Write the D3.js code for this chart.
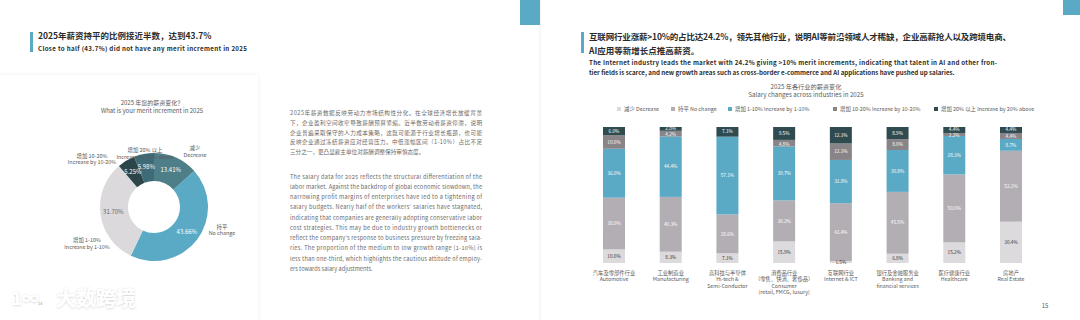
<!DOCTYPE html>
<html>
<head>
<meta charset="utf-8">
<script src="https://cdn.jsdelivr.net/npm/d3@7"></script>
<style>
  body { margin: 0; background: #fff; }
  svg text { font-family: "Noto Sans CJK SC", "Noto Sans", sans-serif; }
  .head-cn { font-size: 8.5px; font-weight: bold; fill: #2b2b2b; }
  .head-en { font-size: 6.2px; font-weight: bold; fill: #2b2b2b; }
  .small { font-size: 5.4px; fill: #5a5a5a; }
  .body { font-size: 5.6px; fill: #6a6a6a; }
</style>
</head>
<body>
<svg id="page" width="1080" height="320"></svg>
<script>
// ---- left: donut ----
const donutCn = ["减少", "持平", "增加 1-10%", "增加 10-20%", "增加 20% 以上"];
const donutEn = ["Decrease", "No change", "Increase by 1-10%", "Increase by 10-20%", "Increase by 20% above"];
const donutValues = [13.41, 43.66, 31.70, 5.25, 5.98];
const donutColors = ["#4e7e87", "#5aaac6", "#dcd9dd", "#2c4549", "#3e6b78"];

// ---- right: stacked bars ----
const industriesCn = ["汽车及零部件行业", "工业制造业", "高科技与半导体", "消费品行业", "互联网行业", "银行及金融服务业", "医疗健康行业", "房地产"];
const industriesSub = [[], [], [], ["（零售、快消、奢侈品）"], [], [], [], []];
const industriesEn = [["Automotive"], ["Manufacturing"], ["Hi-tech &", "Semi-Conductor"], ["Consumer", "(retail, FMCG, luxury)"],
  ["Internet & ICT"], ["Banking and", "financial services"], ["Healthcare"], ["Real Estate"]];
const seriesNames = ["减少 Decrease", "持平 No change", "增加 1-10% Increase by 1-10%", "增加 10-20% Increase by 10-20%", "增加 20% 以上 Increase by 20% above"];
const decrease  = [10.0, 8.3, 7.1, 15.9, 1.5, 6.8, 15.2, 30.4];
const noChange  = [38.0, 40.3, 28.6, 30.2, 42.4, 45.5, 50.0, 52.2];
const inc1to10  = [36.0, 44.4, 57.1, 39.7, 31.8, 30.8, 28.3, 8.7];
const inc10to20 = [10.0, 4.2, 0, 4.8, 12.1, 8.0, 2.2, 4.4];
const inc20plus = [6.0, 2.8, 7.1, 9.5, 12.1, 8.9, 4.4, 4.4];
const barColors = ["#dddadd", "#b3adb4", "#5aa9c5", "#888488", "#2f4b4f"];

const textCn = [
  "2025年薪资数据反映劳动力市场结构性分化。在全球经济增长放缓背景",
  "下，企业盈利空间收窄导致薪酬预算紧缩。近半数劳动者薪资停滞，说明",
  "企业普遍采取保守的人力成本策略，这既可能源于行业增长瓶颈，也可能",
  "反映企业通过冻结薪资应对经营压力。中低涨幅区间（1-10%）占比不足",
  "三分之一，更凸显雇主单位对薪酬调整保持审慎态度。"
];
const textEn = [
  "The salary data for 2025 reflects the structural differentiation of the",
  "labor market. Against the backdrop of global economic slowdown, the",
  "narrowing profit margins of enterprises have led to a tightening of",
  "salary budgets. Nearly half of the workers' salaries have stagnated,",
  "indicating that companies are generally adopting conservative labor",
  "cost strategies. This may be due to industry growth bottlenecks or",
  "reflect the company's response to business pressure by freezing sala-",
  "ries. The proportion of the medium to low growth range (1-10%) is",
  "less than one-third, which highlights the cautious attitude of employ-",
  "ers towards salary adjustments."
];

const svg = d3.select("#page");

// page decoration
const defs = svg.append("defs");
const sh = defs.append("filter").attr("id", "soft").attr("x", "-10%").attr("y", "-10%").attr("width", "120%").attr("height", "120%");
sh.append("feDropShadow").attr("dx", 0).attr("dy", 0).attr("stdDeviation", 2).attr("flood-color", "#000").attr("flood-opacity", 0.07);
const lg = defs.append("filter").attr("id", "logo");
lg.append("feDropShadow").attr("dx", 0).attr("dy", 0.5).attr("stdDeviation", 1).attr("flood-color", "#000").attr("flood-opacity", 0.2);

svg.append("rect").attr("x", -10).attr("y", 75).attr("width", 268).attr("height", 260)
  .attr("fill", "#fff").attr("filter", "url(#soft)");
svg.append("line").attr("x1", 540).attr("x2", 540).attr("y1", 0).attr("y2", 320)
  .attr("stroke", "#f0f0f0").attr("stroke-width", 1);
svg.append("rect").attr("x", 520).attr("y", 0).attr("width", 20).attr("height", 25).attr("fill", "#5aa9c5");
svg.append("rect").attr("x", 1063).attr("y", 0).attr("width", 17).attr("height", 15).attr("fill", "#5aa9c5");

// ---- headlines ----
svg.append("rect").attr("x", 30).attr("y", 32).attr("width", 3).attr("height", 20).attr("fill", "#5aa9c5");
svg.append("text").attr("class", "head-cn").attr("x", 38).attr("y", 38.5).text("2025年薪资持平的比例接近半数，达到43.7%");
svg.append("text").attr("class", "head-en").attr("x", 38).attr("y", 50.5)
  .attr("textLength", 209).attr("lengthAdjust", "spacing")
  .text("Close to half (43.7%) did not have any merit increment in 2025");

svg.append("rect").attr("x", 581).attr("y", 32).attr("width", 3).attr("height", 21).attr("fill", "#5aa9c5");
svg.append("text").attr("class", "head-cn").attr("x", 589).attr("y", 39.5)
  .attr("textLength", 422).attr("lengthAdjust", "spacing")
  .text("互联网行业涨薪>10%的占比达24.2%，领先其他行业，说明AI等前沿领域人才稀缺，企业高薪抢人以及跨境电商、");
svg.append("text").attr("class", "head-cn").attr("x", 589).attr("y", 53.5).text("AI应用等新增长点推高薪资。");
svg.append("text").attr("class", "head-en").attr("x", 589).attr("y", 64.8)
  .attr("textLength", 408).attr("lengthAdjust", "spacing")
  .text("The Internet industry leads the market with 24.2% giving >10% merit increments, indicating that talent in AI and other fron-");
svg.append("text").attr("class", "head-en").attr("x", 589).attr("y", 74.5)
  .text("tier fields is scarce, and new growth areas such as cross-border e-commerce and AI applications have pushed up salaries.");

// ---- donut ----
const cx = 154, cy = 207;
const g = svg.append("g").attr("transform", `translate(${cx},${cy})`);
const pie = d3.pie().sort(null).value(d => d)(donutValues);
const arc = d3.arc().innerRadius(26).outerRadius(54);
const labelArc = d3.arc().innerRadius(41).outerRadius(41);
g.selectAll("path").data(pie).join("path")
  .attr("d", arc).attr("fill", (d, i) => donutColors[i]);
g.selectAll("text.pct").data(pie).join("text").attr("class", "pct")
  .attr("transform", d => `translate(${labelArc.centroid(d)})`)
  .attr("text-anchor", "middle").attr("dy", "0.35em")
  .style("font-size", "6px")
  .attr("fill", (d, i) => i === 2 ? "#666" : "#fff")
  .text(d => d.data.toFixed(2) + "%");

svg.append("text").attr("class", "small").attr("x", 152).attr("y", 105).attr("text-anchor", "middle")
  .style("font-size", "6px").text("2025 年您的薪资变化？");
svg.append("text").attr("class", "small").attr("x", 152).attr("y", 112.5).attr("text-anchor", "middle")
  .style("font-size", "6px").text("What is your merit increment in 2025");

// outside labels, placed beside each slice
const outerPos = [[195, 150], [222, 228.5], [87, 242], [92, 157.5], [145, 152]];
outerPos.forEach((p, i) => {
  const t = svg.append("text").attr("class", "small").attr("text-anchor", "middle")
    .attr("x", p[0]).attr("y", p[1]);
  t.append("tspan").attr("x", p[0]).text(donutCn[i]);
  t.append("tspan").attr("x", p[0]).attr("dy", 6.8).text(donutEn[i]);
});

// ---- middle paragraphs ----
textCn.forEach((s, i) => {
  const t = svg.append("text").attr("class", "body").attr("x", 290).attr("y", 115 + i * 9.8).text(s);
  if (i < textCn.length - 1) t.attr("textLength", 192).attr("lengthAdjust", "spacing");
});
textEn.forEach((s, i) => {
  const t = svg.append("text").attr("class", "body").attr("x", 290).attr("y", 178.5 + i * 10.25).text(s);
  if (i < textEn.length - 1) t.attr("textLength", 192).attr("lengthAdjust", "spacing");
});

// ---- stacked bar chart ----
const rows = industriesCn.map((c, i) => ({
  name: c, s0: decrease[i], s1: noChange[i], s2: inc1to10[i], s3: inc10to20[i], s4: inc20plus[i]
}));
const keys = ["s0", "s1", "s2", "s3", "s4"];
const stack = d3.stack().keys(keys).offset(d3.stackOffsetExpand)(rows);

const x = d3.scalePoint().domain(industriesCn).range([614, 1011]);
const y = d3.scaleLinear().domain([0, 1]).range([263, 127]);
const bw = 22;

const bars = svg.append("g");
stack.forEach((layer, k) => {
  const lay = bars.append("g");
  lay.selectAll("rect").data(layer).join("rect")
    .attr("x", d => x(d.data.name) - bw / 2)
    .attr("y", d => y(d[1]))
    .attr("width", bw)
    .attr("height", d => Math.max(0, y(d[0]) - y(d[1])))
    .attr("fill", barColors[k]);
});
// segment labels; thin top segments get nudged so they don't collide
stack.forEach((layer, k) => {
  bars.append("g").selectAll("text").data(layer.filter(d => d.data[layer.key] > 0)).join("text")
    .attr("x", d => x(d.data.name))
    .attr("y", d => {
      const mid = (y(d[0]) + y(d[1])) / 2;
      const v = d.data[layer.key];
      if (v < 5 && k >= 3) return mid + (k === 4 ? -0.8 : 0.8);
      return mid;
    })
    .attr("dy", "0.35em").attr("text-anchor", "middle")
    .style("font-size", "4.7px")
    .attr("fill", k === 0 ? "#333" : "#fff")
    .text(d => d.data[layer.key].toFixed(1) + "%");
});

// category labels
industriesCn.forEach((c, i) => {
  const lines = [c].concat(industriesSub[i], industriesEn[i]);
  lines.forEach((s, j) => {
    svg.append("text").attr("class", "small").attr("text-anchor", "middle")
      .style("font-size", "5.3px")
      .attr("x", x(c)).attr("y", 275 + j * 6.4).text(s);
  });
});

// chart title + legend
svg.append("text").attr("class", "small").attr("x", 806).attr("y", 89).attr("text-anchor", "middle")
  .style("font-size", "6.2px").text("2025 年各行业的薪资变化");
svg.append("text").attr("class", "small").attr("x", 806).attr("y", 97).attr("text-anchor", "middle")
  .style("font-size", "6.2px").text("Salary changes across industries in 2025");

const legendX = [617, 671, 728, 833, 934];
seriesNames.forEach((s, i) => {
  svg.append("rect").attr("x", legendX[i]).attr("y", 107).attr("width", 4).attr("height", 4).attr("fill", barColors[i]);
  svg.append("text").attr("class", "small").attr("x", legendX[i] + 7).attr("y", 111).text(s);
});

// page numbers + logo
svg.append("text").attr("class", "small").attr("x", 1045).attr("y", 308).attr("text-anchor", "middle")
  .style("font-size", "6px").attr("fill", "#333").text("15");
svg.append("text").attr("x", 12).attr("y", 305).style("font-size", "17px").style("font-weight", "bold")
  .attr("fill", "#fff").attr("filter", "url(#logo)").text("1∞");
svg.append("text").attr("x", 38).attr("y", 305).style("font-size", "4px").attr("fill", "#999").text("14");
svg.append("text").attr("x", 56).attr("y", 306).style("font-size", "20px").style("font-weight", "bold")
  .attr("fill", "#fff").attr("filter", "url(#logo)").text("大数跨境");
</script>
</body>
</html>
